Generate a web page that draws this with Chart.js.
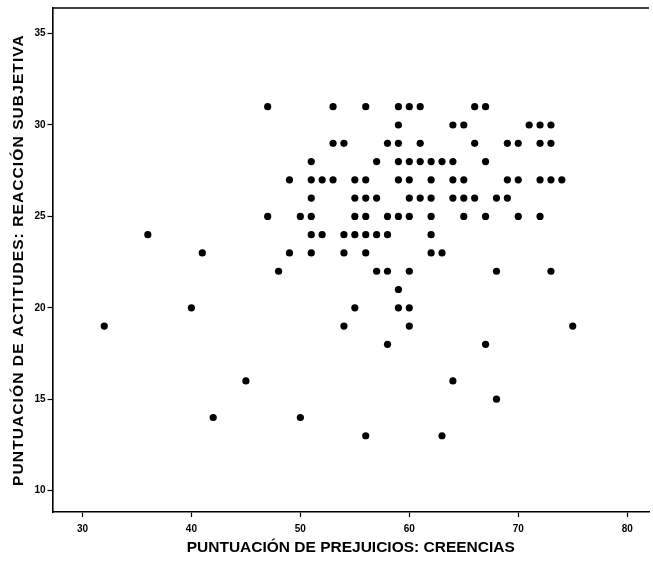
<!DOCTYPE html>
<html>
<head>
<meta charset="utf-8">
<script src="https://cdn.jsdelivr.net/npm/chart.js@4/dist/chart.umd.min.js"></script>
<style>
  html, body { margin: 0; padding: 0; background: #fff; }
  #wrap { width: 653px; height: 566px; }
</style>
</head>
<body>
<div id="wrap"><canvas id="scatter"></canvas></div>
<script>
// Puntuaciones por sujeto (creencias, reacción subjetiva), agrupadas por fila de reacción
const creencias = [
  47, 53, 56, 59, 60, 61, 66, 67,
  59, 64, 65, 71, 72, 73,
  53, 54, 58, 59, 61, 66, 69, 70, 72, 73,
  51, 57, 59, 60, 61, 62, 63, 64, 67,
  49, 51, 52, 53, 55, 56, 59, 60, 62, 64, 65, 69, 70, 72, 73, 74,
  51, 55, 56, 57, 60, 61, 62, 64, 65, 66, 68, 69,
  47, 50, 51, 55, 56, 58, 59, 60, 62, 65, 67, 70, 72,
  36, 51, 52, 54, 55, 56, 57, 58, 62,
  41, 49, 51, 54, 56, 62, 63,
  48, 57, 58, 60, 68, 73,
  59,
  40, 55, 59, 60,
  32, 54, 60, 75,
  58, 67,
  45, 64,
  68,
  42, 50,
  56, 63,
];
const reaccion = [
  31, 31, 31, 31, 31, 31, 31, 31,
  30, 30, 30, 30, 30, 30,
  29, 29, 29, 29, 29, 29, 29, 29, 29, 29,
  28, 28, 28, 28, 28, 28, 28, 28, 28,
  27, 27, 27, 27, 27, 27, 27, 27, 27, 27, 27, 27, 27, 27, 27, 27,
  26, 26, 26, 26, 26, 26, 26, 26, 26, 26, 26, 26,
  25, 25, 25, 25, 25, 25, 25, 25, 25, 25, 25, 25, 25,
  24, 24, 24, 24, 24, 24, 24, 24, 24,
  23, 23, 23, 23, 23, 23, 23,
  22, 22, 22, 22, 22, 22,
  21,
  20, 20, 20, 20,
  19, 19, 19, 19,
  18, 18,
  16, 16,
  15,
  14, 14,
  13, 13,
];
const xTicks = [30, 40, 50, 60, 70, 80];
const yTicks = [10, 15, 20, 25, 30, 35];

const tickFont = { family: "'Liberation Sans Narrow', 'Liberation Sans', Arial, sans-serif", size: 10, weight: "bold" };
const titleFont = { family: "'Liberation Sans', Arial, sans-serif", size: 15.5, weight: "bold" };

// top edge of the plot frame
const frameTop = {
  id: "frameTop",
  afterDraw(chart) {
    const { ctx, chartArea } = chart;
    ctx.save();
    ctx.strokeStyle = "#000";
    ctx.lineWidth = 1.5;
    ctx.beginPath();
    ctx.moveTo(chartArea.left, chartArea.top);
    ctx.lineTo(chartArea.right, chartArea.top);
    ctx.stroke();
    ctx.restore();
  },
};

// the vertical title is set with wider letter spacing
function spacedTitle(scale, spacing) {
  if (scale._spaced) return;
  const orig = scale.drawTitle;
  scale.drawTitle = function () {
    this.ctx.save();
    this.ctx.letterSpacing = spacing;
    orig.apply(this, arguments);
    this.ctx.restore();
  };
  scale._spaced = true;
}

function main() {
  const points = creencias.map((x, i) => ({ x: x, y: reaccion[i] }));

  new Chart(document.getElementById("scatter"), {
    type: "scatter",
    data: {
      datasets: [
        {
          data: points,
          backgroundColor: "#000",
          borderColor: "#000",
          pointRadius: 3.6,
          pointBorderWidth: 0,
        },
      ],
    },
    options: {
      responsive: true,
      maintainAspectRatio: false,
      animation: false,
      layout: { padding: { top: 7, right: 0, bottom: 0, left: 0 } },
      scales: {
        x: {
          type: "linear",
          min: 27.25,
          max: 82.0,
          afterBuildTicks: (scale) => {
            scale.ticks = xTicks.map((v) => ({ value: v }));
          },
          afterFit: (scale) => {
            scale.height = 54;
          },
          border: { display: true, color: "#000", width: 1.6 },
          grid: { drawOnChartArea: false, drawTicks: true, tickLength: 5, color: "#000", tickWidth: 1.2 },
          ticks: { color: "#000", font: tickFont, padding: 6, maxRotation: 0 },
          title: {
            display: true,
            text: "PUNTUACIÓN DE PREJUICIOS: CREENCIAS",
            color: "#000",
            font: titleFont,
            padding: { top: 0, bottom: 9 },
          },
        },
        y: {
          type: "linear",
          min: 8.83,
          max: 36.4,
          afterBuildTicks: (scale) => {
            scale.ticks = yTicks.map((v) => ({ value: v }));
          },
          afterFit: (scale) => {
            scale.width = 52.5;
            spacedTitle(scale, "1.1px");
          },
          border: { display: true, color: "#000", width: 1.6 },
          grid: { drawOnChartArea: false, drawTicks: true, tickLength: 5, color: "#000", tickWidth: 1.2 },
          ticks: { color: "#000", font: tickFont, padding: 2 },
          title: {
            display: true,
            text: "PUNTUACIÓN DE ACTITUDES: REACCIÓN SUBJETIVA",
            color: "#000",
            font: titleFont,
            padding: { top: 9, bottom: 0 },
          },
        },
      },
      plugins: {
        legend: { display: false },
        tooltip: { enabled: false },
      },
    },
    plugins: [frameTop],
  });
}

main();
</script>
</body>
</html>
